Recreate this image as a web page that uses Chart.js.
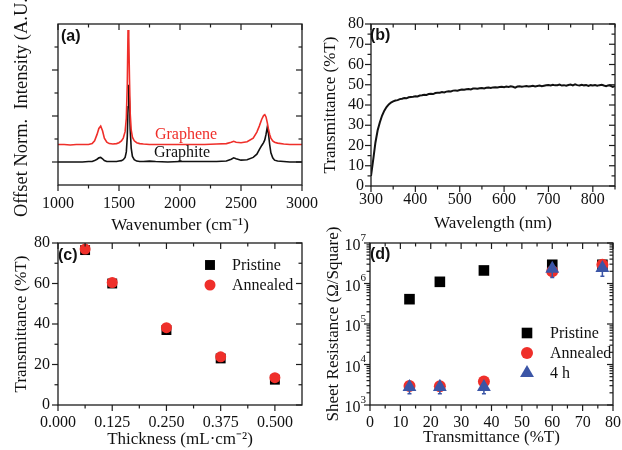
<!DOCTYPE html>
<html>
<head>
<meta charset="utf-8">
<script src="https://cdn.jsdelivr.net/npm/chart.js@4.4.0/dist/chart.umd.min.js"></script>
<style>
  body { margin: 0; background: #fff; }
  #wrap { position: relative; width: 622px; height: 450px; }
  canvas { position: absolute; left: 0; top: 0; }
</style>
</head>
<body>
<div id="wrap">
  <canvas id="ca" width="622" height="450"></canvas>
  <canvas id="cb" width="622" height="450"></canvas>
  <canvas id="cc" width="622" height="450"></canvas>
  <canvas id="cd" width="622" height="450"></canvas>
</div>
<script>
// (a) Raman spectra
const ramanShift = [1000, 1050, 1100, 1150, 1200, 1250, 1280, 1300, 1320, 1335, 1350, 1365, 1380, 1400, 1420, 1450, 1480, 1500, 1520, 1535, 1550, 1560, 1568, 1574, 1580, 1586, 1592, 1600, 1610, 1625, 1645, 1670, 1700, 1750, 1800, 1900, 2000, 2100, 2200, 2300, 2380, 2420, 2440, 2460, 2500, 2550, 2600, 2630, 2650, 2670, 2685, 2695, 2705, 2715, 2725, 2735, 2745, 2760, 2775, 2800, 2850, 2900, 2950, 3000];
const grapheneIntensity = [0.38, 0.38, 0.37, 0.38, 0.38, 0.38, 0.40, 0.46, 0.60, 0.73, 0.78, 0.68, 0.52, 0.43, 0.40, 0.39, 0.40, 0.42, 0.46, 0.52, 0.66, 0.95, 1.70, 2.87, 2.70, 1.80, 1.05, 0.70, 0.54, 0.46, 0.42, 0.40, 0.39, 0.38, 0.38, 0.38, 0.38, 0.38, 0.38, 0.39, 0.40, 0.43, 0.45, 0.43, 0.42, 0.44, 0.52, 0.65, 0.78, 0.93, 1.01, 1.03, 0.98, 0.86, 0.72, 0.60, 0.52, 0.46, 0.43, 0.41, 0.39, 0.38, 0.38, 0.38];
const graphiteIntensity = [0.00, 0.00, 0.00, 0.00, 0.00, 0.01, 0.01, 0.03, 0.06, 0.09, 0.10, 0.07, 0.03, 0.01, 0.01, 0.01, 0.01, 0.02, 0.03, 0.05, 0.10, 0.22, 0.55, 1.20, 1.68, 1.30, 0.70, 0.30, 0.12, 0.05, 0.02, 0.01, 0.01, 0.02, 0.01, 0.00, 0.01, 0.01, 0.01, 0.01, 0.02, 0.06, 0.09, 0.07, 0.04, 0.05, 0.10, 0.17, 0.27, 0.36, 0.42, 0.48, 0.60, 0.75, 0.62, 0.38, 0.20, 0.09, 0.04, 0.02, 0.01, 0.00, 0.00, 0.00];
const ramanTicks = [1000, 1500, 2000, 2500, 3000];
const ramanMinor = [1250, 1750, 2250, 2750];

// (b) UV-vis transmittance
const wavelength = [300, 305, 310, 315, 320, 325, 330, 335, 340, 345, 350, 355, 360, 365, 370, 375, 380, 385, 390, 395, 400, 405, 410, 415, 420, 425, 430, 435, 440, 445, 450, 455, 460, 465, 470, 475, 480, 485, 490, 495, 500, 505, 510, 515, 520, 525, 530, 535, 540, 545, 550, 555, 560, 565, 570, 575, 580, 585, 590, 595, 600, 605, 610, 615, 620, 625, 630, 635, 640, 645, 650, 655, 660, 665, 670, 675, 680, 685, 690, 695, 700, 705, 710, 715, 720, 725, 730, 735, 740, 745, 750, 755, 760, 765, 770, 775, 780, 785, 790, 795, 800, 805, 810, 815, 820, 825, 830, 835, 840, 845, 850];
const transmittance = [5.0, 13.0, 21.5, 27.5, 31.5, 34.8, 37.2, 39.0, 40.3, 41.2, 41.8, 42.2, 42.4, 42.9, 43.1, 43.4, 43.3, 43.8, 44.0, 44.1, 44.3, 44.2, 44.7, 44.8, 45.1, 45.0, 45.4, 45.5, 45.4, 45.9, 46.0, 46.1, 46.4, 46.2, 46.6, 46.8, 46.7, 47.1, 47.2, 47.1, 47.4, 47.6, 47.5, 47.8, 47.9, 47.7, 48.1, 48.2, 48.0, 48.3, 48.4, 48.2, 48.5, 48.6, 48.4, 48.7, 48.8, 48.6, 48.9, 49.0, 48.8, 49.1, 48.9, 49.2, 49.0, 48.6, 49.1, 49.3, 49.0, 49.2, 49.4, 49.1, 49.3, 49.5, 49.2, 49.4, 49.6, 49.3, 49.5, 49.7, 49.9, 49.6, 50.0, 49.7, 49.8, 50.1, 49.6, 49.8, 49.5, 49.9, 50.1, 49.7, 50.2, 49.8, 49.6, 50.0, 49.7, 49.9, 49.4, 49.8, 49.6, 49.9, 49.5, 49.8, 50.0, 49.6, 49.3, 49.7, 49.5, 48.9, 49.4];
const wavelengthTicks = [300, 400, 500, 600, 700, 800];
const wavelengthMinor = [350, 450, 550, 650, 750, 850];
const transTicks = [0, 10, 20, 30, 40, 50, 60, 70, 80];
const transMinor = [5, 15, 25, 35, 45, 55, 65, 75];

// (c) transmittance vs thickness
const thickness = [0.0625, 0.125, 0.25, 0.375, 0.5];
const transPristine = [76.5, 60.0, 37.0, 23.0, 12.5];
const transAnnealed = [77.0, 60.5, 38.2, 23.8, 13.5];
const thicknessTicks = [0, 0.125, 0.25, 0.375, 0.5];
const thicknessMinor = [0.0625, 0.1875, 0.3125, 0.4375];
const transTicksC = [0, 20, 40, 60, 80];
const transMinorC = [10, 30, 50, 70];

// (d) sheet resistance vs transmittance
const sheetT = [13, 23, 37.5, 60, 76.5];
const rsPristine = [4.1e5, 1.1e6, 2.1e6, 2.9e6, 2.9e6];
const rsAnnealed = [2.95e3, 2.9e3, 3.8e3, 2.0e6, 2.9e6];
const rs4h = [2.8e3, 2.8e3, 2.8e3, 2.3e6, 2.4e6];
const rs4hLow = [1.9e3, 1.9e3, 1.9e3, 1.4e6, 1.5e6];
const rs4hHigh = [4.0e3, 4.2e3, 4.0e3, 3.2e6, 3.4e6];
const sheetTTicks = [0, 10, 20, 30, 40, 50, 60, 70, 80];
const sheetTMinor = [5, 15, 25, 35, 45, 55, 65, 75];
const rsTicks = [1e3, 1e4, 1e5, 1e6, 1e7];
const rsMinor = [2e3, 3e3, 4e3, 5e3, 6e3, 7e3, 8e3, 9e3, 2e4, 3e4, 4e4, 5e4, 6e4, 7e4, 8e4, 9e4, 2e5, 3e5, 4e5, 5e5, 6e5, 7e5, 8e5, 9e5, 2e6, 3e6, 4e6, 5e6, 6e6, 7e6, 8e6, 9e6];

const RED = '#ef2f2a';
const BLUE = '#3b55a6';
const SERIF = '"Liberation Serif", "Times New Roman", serif';

Chart.defaults.font.family = SERIF;
Chart.defaults.color = '#111';

const pts = (xs, ys) => xs.map((v, i) => ({ x: v, y: ys[i] }));

// frame with mirrored ticks, panel letter, notes, legend, error bars
const panelPlugin = {
  id: 'panel',
  afterDatasetsDraw(chart, args, o) {
    if (!o.errorBars) return;
    const { ctx, scales: { x, y } } = chart;
    ctx.save();
    ctx.lineWidth = 1.5;
    for (const b of o.errorBars) {
      ctx.strokeStyle = b.color;
      b.x.forEach((xv, i) => {
        const px = x.getPixelForValue(xv);
        const lo = y.getPixelForValue(b.low[i]);
        const hi = y.getPixelForValue(b.high[i]);
        ctx.beginPath();
        ctx.moveTo(px, lo); ctx.lineTo(px, hi);
        ctx.moveTo(px - 2, lo); ctx.lineTo(px + 2, lo);
        ctx.stroke();
      });
    }
    ctx.restore();
  },
  afterDraw(chart, args, o) {
    const { ctx, chartArea: a, scales: { x, y } } = chart;
    ctx.save();
    ctx.strokeStyle = '#1c1c1c';
    ctx.lineWidth = 1.3;
    ctx.strokeRect(a.left, a.top, a.right - a.left, a.bottom - a.top);
    ctx.lineWidth = 1.2;
    const seg = (x1, y1, x2, y2) => { ctx.beginPath(); ctx.moveTo(x1, y1); ctx.lineTo(x2, y2); ctx.stroke(); };
    const xt = (vals, len) => vals.forEach(v => {
      const p = x.getPixelForValue(v);
      seg(p, a.bottom, p, a.bottom + len);
      seg(p, a.top, p, a.top + len);
    });
    const yt = (vals, len) => vals.forEach(v => {
      const p = y.getPixelForValue(v);
      seg(a.left - len, p, a.left, p);
      seg(a.right - len, p, a.right, p);
    });
    xt(o.xMajor, 6); xt(o.xMinor, 3.5);
    yt(o.yMajor, 6); yt(o.yMinor, 3.5);

    ctx.fillStyle = '#111';
    if (o.powerLabels) {
      ctx.textBaseline = 'middle';
      for (const v of o.powerLabels) {
        const p = y.getPixelForValue(v);
        const e = String(Math.round(Math.log10(v)));
        ctx.font = '11px ' + SERIF;
        ctx.textAlign = 'right';
        ctx.fillText(e, a.left - 4, p - 5);
        const ew = ctx.measureText(e).width;
        ctx.font = '16px ' + SERIF;
        ctx.fillText('10', a.left - 4 - ew, p + 3);
      }
    }

    ctx.font = 'bold 16px "Liberation Sans", Arial, sans-serif';
    ctx.textAlign = 'left';
    ctx.textBaseline = 'top';
    ctx.fillText(o.letter, a.left + o.letterAt[0], a.top + o.letterAt[1]);

    ctx.textBaseline = 'middle';
    for (const n of o.notes || []) {
      ctx.fillStyle = n.color;
      ctx.font = '16px ' + SERIF;
      ctx.fillText(n.text, x.getPixelForValue(n.x), y.getPixelForValue(n.y));
    }

    if (o.legend) {
      chart.data.datasets.forEach((ds, i) => {
        const lx = a.left + o.legend.x;
        const ly = a.top + o.legend.y + i * o.legend.dy;
        ctx.fillStyle = ds.backgroundColor;
        ctx.strokeStyle = ds.backgroundColor;
        Chart.helpers.drawPoint(ctx, { pointStyle: ds.pointStyle, radius: ds.pointRadius, rotation: 0, borderWidth: 0 }, lx, ly);
        ctx.fillStyle = '#111';
        ctx.font = '16px ' + SERIF;
        ctx.fillText(ds.label, a.left + o.legend.tx, ly + 1);
      });
    }
    ctx.restore();
  }
};

function xAxis(opts) {
  return {
    type: 'linear', min: opts.min, max: opts.max,
    grid: { display: false, drawTicks: false }, border: { display: false },
    afterBuildTicks: s => { s.ticks = opts.ticks.map(v => ({ value: v })); },
    afterFit: s => { s.height = opts.height; s.paddingLeft = 0; s.paddingRight = 0; },
    ticks: { padding: opts.pad, font: { family: SERIF, size: 16 }, color: '#111', maxRotation: 0, autoSkip: false, callback: opts.fmt || (v => v) },
    title: { display: true, text: opts.title, color: '#111', font: { family: SERIF, size: 17 }, padding: { top: 0, bottom: 0 } }
  };
}

function yAxis(opts) {
  return {
    type: opts.type || 'linear', min: opts.min, max: opts.max,
    grid: { display: false, drawTicks: false }, border: { display: false },
    afterBuildTicks: s => { s.ticks = opts.ticks.map(v => ({ value: v })); },
    afterFit: s => { s.width = opts.width; s.paddingTop = 0; s.paddingBottom = 0; },
    ticks: { display: opts.showTicks !== false, padding: opts.pad || 7, font: { family: SERIF, size: 16 }, color: '#111', autoSkip: false },
    title: { display: true, text: opts.title, color: '#111', font: { family: SERIF, size: opts.titleSize || 17 }, padding: { top: opts.titlePad, bottom: 0 } }
  };
}

const common = { responsive: false, animation: false, devicePixelRatio: 1, events: [] };

// (a)
new Chart(document.getElementById('ca'), {
  type: 'line',
  data: {
    datasets: [
      { label: 'Graphene', data: pts(ramanShift, grapheneIntensity), borderColor: RED, borderWidth: 1.6, pointRadius: 0, order: 1 },
      { label: 'Graphite', data: pts(ramanShift, graphiteIntensity), borderColor: '#111', borderWidth: 1.6, pointRadius: 0, order: 2 }
    ]
  },
  options: {
    ...common,
    layout: { padding: { left: 0, top: 24, right: 320, bottom: 214 } },
    plugins: {
      legend: { display: false }, tooltip: { enabled: false },
      panel: {
        xMajor: ramanTicks, xMinor: ramanMinor, yMajor: [0, 1, 2], yMinor: [0.5, 1.5, 2.5],
        letter: '(a)', letterAt: [3, 5],
        notes: [
          { text: 'Graphene', x: 1795, y: 0.60, color: RED },
          { text: 'Graphite', x: 1787, y: 0.19, color: '#111' }
        ]
      }
    },
    scales: {
      x: xAxis({ min: 1000, max: 3000, ticks: ramanTicks, height: 51, pad: 9, title: 'Wavenumber (cm⁻¹)' }),
      y: yAxis({ min: -0.5, max: 3, ticks: [0, 1, 2], width: 58, showTicks: false, titlePad: 11, titleSize: 18.5, title: 'Offset Norm.  Intensity (A.U.)' })
    }
  },
  plugins: [panelPlugin]
});

// (b)
new Chart(document.getElementById('cb'), {
  type: 'line',
  data: {
    datasets: [
      { label: 'T', data: pts(wavelength, transmittance), borderColor: '#111', borderWidth: 2, pointRadius: 0 }
    ]
  },
  options: {
    ...common,
    layout: { padding: { left: 311, top: 24, right: 7, bottom: 216 } },
    plugins: {
      legend: { display: false }, tooltip: { enabled: false },
      panel: {
        xMajor: wavelengthTicks, xMinor: wavelengthMinor, yMajor: transTicks, yMinor: transMinor,
        letter: '(b)', letterAt: [-1, 4]
      }
    },
    scales: {
      x: xAxis({ min: 300, max: 850, ticks: wavelengthTicks, height: 48, pad: 4, title: 'Wavelength (nm)' }),
      y: yAxis({ min: 0, max: 80, ticks: transTicks, width: 60, pad: 7, titlePad: 9, title: 'Transmittance (%T)' })
    }
  },
  plugins: [panelPlugin]
});

// (c)
new Chart(document.getElementById('cc'), {
  type: 'scatter',
  data: {
    datasets: [
      { label: 'Pristine', data: pts(thickness, transPristine), pointStyle: 'rect', pointRadius: 7, backgroundColor: '#000', borderColor: '#000', borderWidth: 0, order: 2 },
      { label: 'Annealed', data: pts(thickness, transAnnealed), pointStyle: 'circle', pointRadius: 5.5, backgroundColor: RED, borderColor: RED, borderWidth: 0, order: 1 }
    ]
  },
  options: {
    ...common,
    layout: { padding: { left: 0, top: 243, right: 320, bottom: 0 } },
    plugins: {
      legend: { display: false }, tooltip: { enabled: false },
      panel: {
        xMajor: thicknessTicks, xMinor: thicknessMinor, yMajor: transTicksC, yMinor: transMinorC,
        letter: '(c)', letterAt: [0, 5],
        legend: { x: 152, y: 22, dy: 20, tx: 174 }
      }
    },
    scales: {
      x: xAxis({ min: 0, max: 0.5625, ticks: thicknessTicks, height: 45, pad: 8, title: 'Thickness (mL·cm⁻²)', fmt: v => v.toFixed(3) }),
      y: yAxis({ min: 0, max: 80, ticks: transTicksC, width: 58, pad: 8, titlePad: 11, title: 'Transmittance (%T)' })
    }
  },
  plugins: [panelPlugin]
});

// (d)
new Chart(document.getElementById('cd'), {
  type: 'scatter',
  data: {
    datasets: [
      { label: 'Pristine', data: pts(sheetT, rsPristine), pointStyle: 'rect', pointRadius: 7.5, backgroundColor: '#000', borderColor: '#000', borderWidth: 0, order: 3 },
      { label: 'Annealed', data: pts(sheetT, rsAnnealed), pointStyle: 'circle', pointRadius: 6, backgroundColor: RED, borderColor: RED, borderWidth: 0, order: 2 },
      { label: '4 h', data: pts(sheetT, rs4h), pointStyle: 'triangle', pointRadius: 8, backgroundColor: BLUE, borderColor: BLUE, borderWidth: 0, order: 1 }
    ]
  },
  options: {
    ...common,
    layout: { padding: { left: 311, top: 243, right: 9, bottom: 2 } },
    plugins: {
      legend: { display: false }, tooltip: { enabled: false },
      panel: {
        xMajor: sheetTTicks, xMinor: sheetTMinor, yMajor: rsTicks, yMinor: rsMinor,
        powerLabels: rsTicks,
        letter: '(d)', letterAt: [0, 4],
        legend: { x: 157, y: 90, dy: 20, tx: 180 },
        errorBars: [{ color: BLUE, x: sheetT, low: rs4hLow, high: rs4hHigh }]
      }
    },
    scales: {
      x: xAxis({ min: 0, max: 80, ticks: sheetTTicks, height: 43, pad: 8, title: 'Transmittance (%T)' }),
      y: yAxis({ type: 'logarithmic', min: 1e3, max: 1e7, ticks: rsTicks, width: 59, showTicks: false, titlePad: 12, title: 'Sheet Resistance (Ω/Square)' })
    }
  },
  plugins: [panelPlugin]
});
</script>
</body>
</html>
